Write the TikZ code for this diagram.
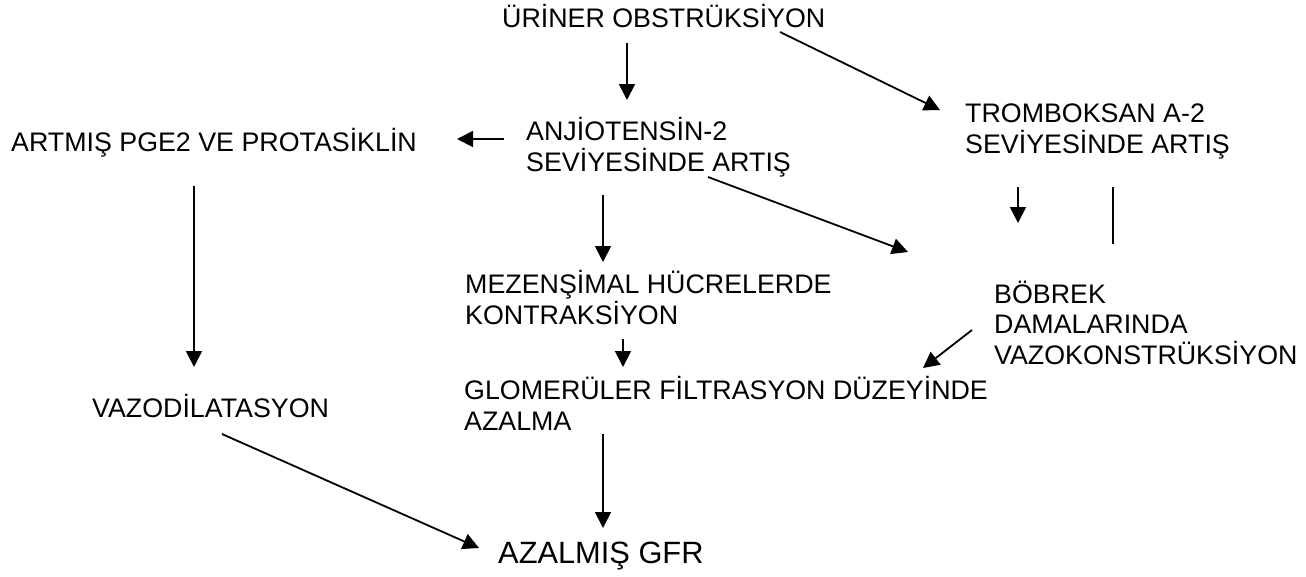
\documentclass[tikz,border=0pt]{standalone}
\usepackage{fontspec}
\setmainfont{Liberation Sans}
\usetikzlibrary{arrows.meta}
\begin{document}
\begin{tikzpicture}[x=1pt,y=-1pt,
  lbl/.style={anchor=base west,inner sep=0pt,align=left,font=\fontsize{26.8}{30.5}\selectfont},
  big/.style={anchor=base west,inner sep=0pt,font=\fontsize{30.8}{35}\selectfont},
  arr/.style={line width=1.8pt,-{Triangle[length=16pt,width=16pt]}},
  ln/.style={line width=1.8pt}]
\useasboundingbox (0,0) rectangle (1306,576);
% nodes (anchor = baseline of the last line)
\node[lbl] (uo) at (502,27) {ÜRİNER OBSTRÜKSİYON};
\node[lbl] (an) at (526,171) {ANJİOTENSİN-2\\SEVİYESİNDE ARTIŞ};
\node[lbl] (tr) at (965,153) {TROMBOKSAN A-2\\SEVİYESİNDE ARTIŞ};
\node[lbl] (pg) at (11,151) {ARTMIŞ PGE2 VE PROTASİKLİN};
\node[lbl] (mz) at (465,324) {MEZENŞİMAL HÜCRELERDE\\KONTRAKSİYON};
\node[lbl] (bb) at (994,364) {BÖBREK\\DAMALARINDA\\VAZOKONSTRÜKSİYON};
\node[lbl] (gl) at (464,430) {GLOMERÜLER FİLTRASYON DÜZEYİNDE\\AZALMA};
\node[lbl] (vz) at (92,417) {VAZODİLATASYON};
\node[big] (gfr) at (498,563) {AZALMIŞ GFR};
% connector end points
\coordinate (uoS) at (627,43);   \coordinate (anN) at (627,100);
\coordinate (uoE) at (780,32);   \coordinate (trW) at (940,110);
\coordinate (anW) at (504,139);  \coordinate (pgE) at (457,139);
\coordinate (pgS) at (194,186);  \coordinate (vzN) at (194,367);
\coordinate (anS) at (603,195);  \coordinate (mzN) at (603,262);
\coordinate (anSE) at (708,177); \coordinate (bbNW) at (908,252);
\coordinate (trS) at (1018,187); \coordinate (bbN) at (1018,223);
\coordinate (trS2) at (1113,187);\coordinate (trS2e) at (1113,244);
\coordinate (mzS) at (623,339);  \coordinate (glN) at (623,367);
\coordinate (bbW) at (972,330);  \coordinate (glNE) at (923,368);
\coordinate (glS) at (603,434);  \coordinate (gfrN) at (603,528);
\coordinate (vzSE) at (222,434); \coordinate (gfrW) at (479,548);
% connectors
\draw[arr] (uoS) -- (anN);
\draw[arr] (uoE) -- (trW);
\draw[arr] (anW) -- (pgE);
\draw[arr] (pgS) -- (vzN);
\draw[arr] (anS) -- (mzN);
\draw[arr] (anSE) -- (bbNW);
\draw[arr] (trS) -- (bbN);
\draw[ln] (trS2) -- (trS2e);
\draw[arr] (mzS) -- (glN);
\draw[arr] (bbW) -- (glNE);
\draw[arr] (glS) -- (gfrN);
\draw[arr] (vzSE) -- (gfrW);
\end{tikzpicture}
\end{document}
